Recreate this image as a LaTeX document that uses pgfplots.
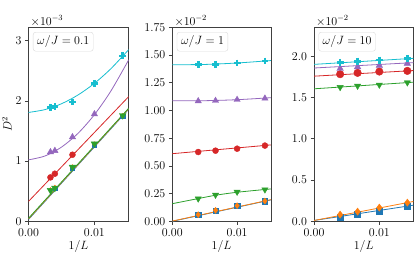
\documentclass[border=0pt]{standalone}
\usepackage{pgfplots}
\pgfplotsset{compat=1.18}
\definecolor{tblue}{HTML}{1F77B4}
\definecolor{torange}{HTML}{FF7F0E}
\definecolor{tgreen}{HTML}{2CA02C}
\definecolor{tred}{HTML}{D62728}
\definecolor{tpurple}{HTML}{9467BD}
\definecolor{tcyan}{HTML}{17BECF}
\newcommand{\fs}{\fontsize{11.5}{13}\selectfont}
\tikzset{
  boxlabel/.style={draw=black!15, fill=white, rounded corners=2.5pt, inner xsep=4pt, inner ysep=3.5pt, font=\fs, anchor=north west, xshift=4.5pt, yshift=-4.7pt},
  sclabel/.style={anchor=south west, font=\fs, inner sep=1pt, xshift=1pt},
}
\pgfplotsset{
  panel/.style={
    scale only axis, height=194pt,
    xmin=0, xmax=0.0152,
    xtick={0,0.01}, xticklabels={$0.00$,$0.01$},
    axis line style={draw=black!75, line width=0.6pt},
    tick style={draw=black!75, line width=0.6pt},
    tick align=outside, tick pos=left, major tick length=3.5pt,
    xlabel={$1/L$}, scaled ticks=false,
    tick label style={font=\fs}, label style={font=\fs},
    xlabel style={yshift=2pt},
  },
  fitline/.style={no marks, line width=0.8pt},
  pts/.style={only marks, mark size=#1},
  mP/.style={mark=+, mark options={line width=2.6pt, line cap=butt}},
  mUp/.style={mark=triangle*},
  mDn/.style={mark=triangle*, mark options={rotate=180}},
  mC/.style={mark=*},
  mD/.style={mark=diamond*},
  mS/.style={mark=square*},
}
\begin{document}
\begin{tikzpicture}[x=1pt,y=1pt]
\useasboundingbox (0,0) rectangle (415,269);

% ---------- panel 1 ----------
\begin{axis}[panel, name=p1, at={(28.5pt,47.7pt)}, anchor=south west, width=100.2pt,
  ymin=0, ymax=3.22, ytick={0,1,2,3}, yticklabels={$0$,$1$,$2$,$3$},
  ylabel={$D^2$}, ylabel style={yshift=-3pt}]
\addplot[fitline, tblue] coordinates {(0,0.03) (0.0152,1.86)};
\addplot[fitline, torange] coordinates {(0,0.04) (0.0152,1.87)};
\addplot[fitline, tgreen] coordinates {(0,0.05) (0.0152,1.877)};
\addplot[fitline, tred] coordinates {(0,0.33) (0.0152,2.07)};
\addplot[fitline, tpurple, smooth] coordinates {(0,1.02) (0.0025,1.084) (0.005,1.231) (0.0075,1.459) (0.01,1.77) (0.0125,2.163) (0.0152,2.68)};
\addplot[fitline, tcyan, smooth] coordinates {(0,1.807) (0.0025,1.854) (0.005,1.951) (0.0075,2.096) (0.01,2.29) (0.0125,2.533) (0.0152,2.85)};
\addplot[pts=2.1pt, mS, tblue] coordinates {(0.004,0.55) (0.00667,0.89) (0.01,1.27) (0.01429,1.74)};
\addplot[pts=2.5pt, mD, torange] coordinates {(0.00333,0.52) (0.004,0.56) (0.00667,0.90) (0.01,1.28) (0.01429,1.75)};
\addplot[pts=3.8pt, mDn, tgreen] coordinates {(0.00333,0.514) (0.004,0.552) (0.00667,0.90) (0.01,1.287) (0.01429,1.757)};
\addplot[pts=3pt, mC, tred] coordinates {(0.00333,0.729) (0.004,0.79) (0.00667,1.105)};
\addplot[pts=3.7pt, mUp, tpurple] coordinates {(0.00333,1.149) (0.004,1.171) (0.00667,1.398) (0.01,1.779)};
\addplot[pts=3.4pt, mP, tcyan] coordinates {(0.00333,1.889) (0.004,1.906) (0.00667,1.98) (0.01,2.29) (0.01429,2.746)};
\node[boxlabel] at (rel axis cs:0,1) {$\omega/J=0.1$};
\end{axis}
\node[sclabel] at (p1.north west) {$\times10^{-3}$};

% ---------- panel 2 ----------
\begin{axis}[panel, name=p2, at={(172.3pt,47.7pt)}, anchor=south west, width=98.5pt,
  ymin=0, ymax=1.75, ytick={0,0.25,...,1.75},
  yticklabel style={/pgf/number format/fixed, /pgf/number format/fixed zerofill, /pgf/number format/precision=2}]
\addplot[fitline, tblue] coordinates {(0,0.0) (0.0152,0.193)};
\addplot[fitline, torange] coordinates {(0,0.002) (0.0152,0.195)};
\addplot[fitline, tgreen, smooth] coordinates {(0,0.159) (0.004,0.205) (0.00667,0.235) (0.01,0.262) (0.0152,0.292)};
\addplot[fitline, tred] coordinates {(0,0.610) (0.0152,0.689)};
\addplot[fitline, tpurple, smooth] coordinates {(0,1.088) (0.005,1.088) (0.01,1.097) (0.0152,1.115)};
\addplot[fitline, tcyan, smooth] coordinates {(0,1.412) (0.005,1.415) (0.01,1.428) (0.0152,1.450)};
\addplot[pts=2.6pt, mS, tblue] coordinates {(0.004,0.058) (0.00667,0.097) (0.01,0.139) (0.01429,0.181)};
\addplot[pts=3pt, mD, torange] coordinates {(0.004,0.060) (0.00667,0.099) (0.01,0.141) (0.01429,0.183)};
\addplot[pts=3.6pt, mDn, tgreen] coordinates {(0.004,0.204) (0.00667,0.238) (0.01,0.265) (0.01429,0.286)};
\addplot[pts=3pt, mC, tred] coordinates {(0.004,0.625) (0.00667,0.637) (0.01,0.655) (0.01429,0.683)};
\addplot[pts=3.6pt, mUp, tpurple] coordinates {(0.004,1.085) (0.00667,1.088) (0.01,1.097) (0.01429,1.109)};
\addplot[pts=3.4pt, mP, tcyan] coordinates {(0.004,1.413) (0.00667,1.416) (0.01,1.428) (0.01429,1.446)};
\node[boxlabel] at (rel axis cs:0,1) {$\omega/J=1$};
\end{axis}
\node[sclabel] at (p2.north west) {$\times10^{-2}$};

% ---------- panel 3 ----------
\begin{axis}[panel, name=p3, at={(314pt,47.7pt)}, anchor=south west, width=99.3pt,
  ymin=0, ymax=2.35, ytick={0,0.5,...,2.0},
  yticklabel style={/pgf/number format/fixed, /pgf/number format/fixed zerofill, /pgf/number format/precision=1}]
\addplot[fitline, tblue] coordinates {(0,0.01) (0.0152,0.195)};
\addplot[fitline, torange] coordinates {(0,0.01) (0.0152,0.24)};
\addplot[fitline, tgreen] coordinates {(0,1.605) (0.0152,1.685)};
\addplot[fitline, tred] coordinates {(0,1.758) (0.0152,1.826)};
\addplot[fitline, tpurple] coordinates {(0,1.857) (0.0152,1.922)};
\addplot[fitline, tcyan] coordinates {(0,1.901) (0.0152,1.974)};
\addplot[pts=3pt, mS, tblue] coordinates {(0.004,0.053) (0.00667,0.089) (0.01,0.125) (0.01429,0.182)};
\addplot[pts=3.6pt, mD, torange] coordinates {(0.004,0.081) (0.00667,0.117) (0.01,0.166) (0.01429,0.226)};
\addplot[pts=3.6pt, mDn, tgreen] coordinates {(0.004,1.624) (0.00667,1.640) (0.01,1.653) (0.01429,1.681)};
\addplot[pts=3.8pt, mC, tred] coordinates {(0.004,1.782) (0.00667,1.798) (0.01,1.814) (0.01429,1.822)};
\addplot[pts=3.8pt, mUp, tpurple] coordinates {(0.004,1.85) (0.00667,1.87) (0.01,1.887) (0.01429,1.911)};
\addplot[pts=3.6pt, mP, tcyan] coordinates {(0.004,1.923) (0.00667,1.939) (0.01,1.952) (0.01429,1.972)};
\node[boxlabel] at (rel axis cs:0,1) {$\omega/J=10$};
\end{axis}
\node[sclabel] at (p3.north west) {$\times10^{-2}$};
\end{tikzpicture}
\end{document}
